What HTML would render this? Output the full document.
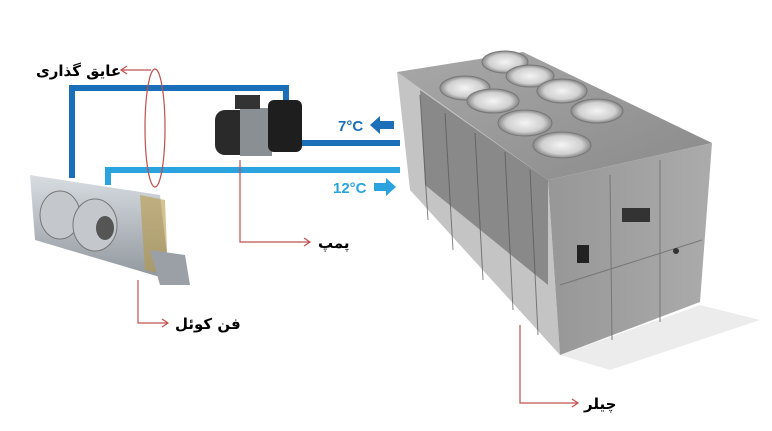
<!DOCTYPE html>
<html><head><meta charset="utf-8"><style>
html,body{margin:0;padding:0;background:#fff;width:772px;height:431px;overflow:hidden}
text{font-family:"Liberation Sans","DejaVu Sans",sans-serif}
.fa{font-family:"DejaVu Sans","Noto Sans CJK SC",sans-serif;font-weight:bold;font-size:15px}
</style></head><body>
<svg width="772" height="431" viewBox="0 0 772 431" xmlns="http://www.w3.org/2000/svg">
<defs>
<linearGradient id="top" x1="0" y1="0" x2="1" y2="1"><stop offset="0" stop-color="#a8a8a8"/><stop offset="1" stop-color="#8a8a8a"/></linearGradient>
<linearGradient id="front" x1="0" y1="0" x2="1" y2="0"><stop offset="0" stop-color="#979797"/><stop offset="1" stop-color="#ababab"/></linearGradient>
<radialGradient id="fan"><stop offset="0" stop-color="#f4f4f4"/><stop offset="0.7" stop-color="#d0d0d0"/><stop offset="1" stop-color="#888"/></radialGradient>
<linearGradient id="fc" x1="0" y1="0" x2="0" y2="1"><stop offset="0" stop-color="#d8dde2"/><stop offset="1" stop-color="#8f969c"/></linearGradient>
</defs>
<polygon points="560,355 700,305 760,320 610,370" fill="#ececec"/>
<polygon points="397,72 548,180 560,355 410,190" fill="#c4c4c4"/>
<polygon points="420,90 548,180 548,285 425,185" fill="#707070" opacity="0.7"/>
<g stroke="#555" stroke-width="1" opacity="0.7">
<line x1="420" y1="95" x2="428" y2="220"/><line x1="445" y1="113" x2="453" y2="250"/><line x1="475" y1="133" x2="483" y2="280"/><line x1="505" y1="152" x2="513" y2="310"/><line x1="530" y1="170" x2="538" y2="335"/>
</g>
<polygon points="397,72 523,52 712,143 548,180" fill="url(#top)"/>
<polygon points="548,180 712,143 700,302 560,355" fill="url(#front)"/>
<line x1="560" y1="285" x2="702" y2="240" stroke="#777"/>
<line x1="610" y1="175" x2="612" y2="340" stroke="#777"/>
<line x1="660" y1="160" x2="660" y2="322" stroke="#777"/>
<rect x="622" y="208" width="28" height="14" fill="#333"/>
<rect x="577" y="245" width="12" height="18" fill="#222"/>
<circle cx="676" cy="251" r="3" fill="#333"/>
<g fill="url(#fan)" stroke="#777" stroke-width="1">
<ellipse cx="505" cy="62" rx="23" ry="11"/>
<ellipse cx="530" cy="76" rx="24" ry="11"/>
<ellipse cx="465" cy="88" rx="25" ry="12"/>
<ellipse cx="562" cy="91" rx="25" ry="12"/>
<ellipse cx="493" cy="101" rx="26" ry="12"/>
<ellipse cx="597" cy="111" rx="26" ry="12"/>
<ellipse cx="525" cy="123" rx="27" ry="13"/>
<ellipse cx="562" cy="145" rx="29" ry="13"/>
</g>
<polyline points="72,178 72,88 286,88 286,102" fill="none" stroke="#1a6fb8" stroke-width="6"/>
<line x1="300" y1="143" x2="400" y2="143" stroke="#1a6fb8" stroke-width="6"/>
<polyline points="108,185 108,170 400,170" fill="none" stroke="#2aa3de" stroke-width="6"/>
<rect x="215" y="110" width="50" height="45" rx="10" fill="#2a2a2a"/>
<rect x="240" y="108" width="32" height="48" fill="#8a8f94"/>
<rect x="268" y="100" width="34" height="52" rx="6" fill="#1e1e1e"/>
<rect x="235" y="95" width="25" height="14" fill="#333"/>
<polygon points="30,175 160,195 170,280 35,240" fill="url(#fc)"/>
<polygon points="140,195 165,200 168,275 145,270" fill="#b89a4a" opacity="0.6"/>
<polygon points="150,250 185,255 190,285 160,285" fill="#9aa0a5"/>
<ellipse cx="60" cy="215" rx="20" ry="24" fill="#c4c8cc" stroke="#777"/>
<ellipse cx="95" cy="225" rx="22" ry="26" fill="#c4c8cc" stroke="#777"/>
<ellipse cx="105" cy="228" rx="9" ry="12" fill="#555"/>
<ellipse cx="155" cy="128" rx="10" ry="59" fill="none" stroke="#c0504d" stroke-width="1.2"/>
<g fill="none" stroke="#c0504d" stroke-width="1.2">
<polyline points="151,70 121,70"/><polyline points="127,66 121,70 127,74"/>
<polyline points="240,160 240,242 310,242"/><polyline points="304,238 310,242 304,246"/>
<polyline points="138,280 138,323 168,323"/><polyline points="162,319 168,323 162,327"/>
<polyline points="520,325 520,403 578,403"/><polyline points="572,399 578,403 572,407"/>
</g>
<text class="fa" x="36" y="76">عایق گذاری</text>
<text class="fa" x="318" y="248">پمپ</text>
<text class="fa" x="175" y="329">فن کوئل</text>
<text class="fa" x="584" y="409">چیلر</text>
<text x="338" y="131" font-size="15" font-weight="bold" fill="#1a6fb8">7°C</text>
<polygon points="370,125 380,116 380,121 394,121 394,129 380,129 380,134" fill="#1a6fb8"/>
<text x="333" y="193" font-size="15" font-weight="bold" fill="#2aa3de">12°C</text>
<polygon points="396,187 386,178 386,183 374,183 374,191 386,191 386,196" fill="#2aa3de"/>
</svg>
</body></html>
